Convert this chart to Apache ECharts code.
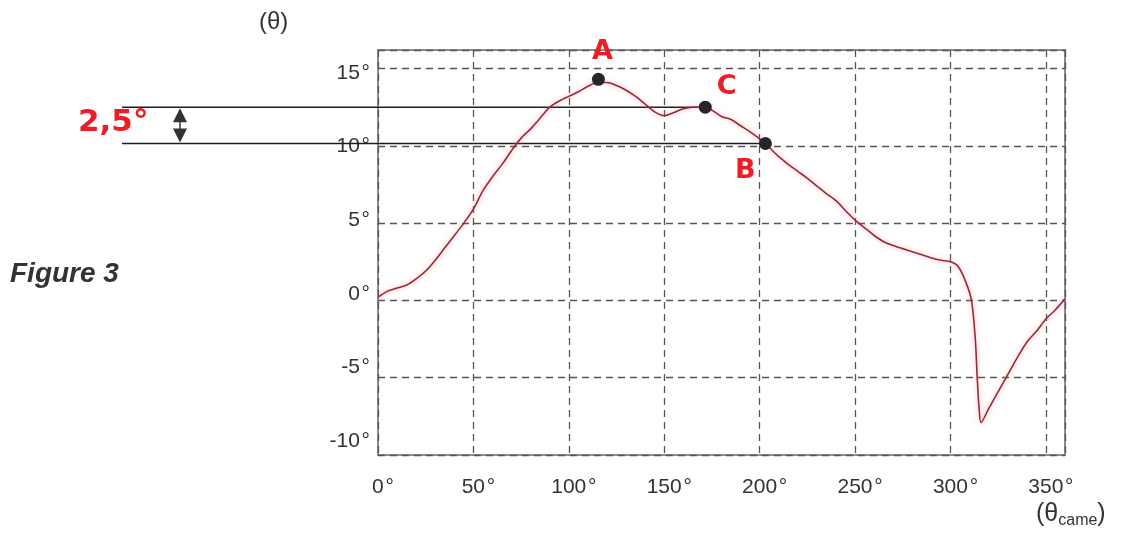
<!DOCTYPE html>
<html><head><meta charset="utf-8">
<script src="https://cdn.jsdelivr.net/npm/echarts@6/dist/echarts.min.js"></script>
<style>html,body{margin:0;padding:0;background:#fff}#c{width:1126px;height:534px}</style>
</head><body><div id="c"></div>
<script>
// cam angle (deg) and output angle (deg)
const camAngles = [0,5,10,15,20,25,30,35,40,45,50,55,60,65,70,75,80,85,90,95,100,105,110,115,120,125,130,135,140,145,150,155,160,165,170,175,180,185,190,195,200,205,210,215,220,225,230,235,240,245,250,255,260,265,270,275,280,285,290,295,300,304,308,311,313,314,315,316,320,325,330,335,340,345,350,355,360];
const thetaValues = [0.2,0.6,0.8,1.0,1.4,1.9,2.6,3.4,4.2,5.0,5.9,7.1,8.0,8.8,9.7,10.5,11.1,11.8,12.5,12.9,13.2,13.5,13.85,14.1,14.1,13.9,13.6,13.2,12.7,12.2,11.95,12.15,12.4,12.5,12.5,12.3,11.9,11.7,11.3,10.9,10.45,9.9,9.3,8.8,8.35,7.9,7.4,6.9,6.45,5.8,5.2,4.7,4.2,3.8,3.55,3.35,3.15,2.95,2.75,2.6,2.5,2.2,1.2,0,-2.5,-5,-7,-7.9,-7.0,-5.9,-4.8,-3.7,-2.7,-2.0,-1.2,-0.6,0.1];
const pointNames = ['A','C','B'];
const pointX = [115.5,171.5,203];
const pointY = [14.3,12.5,10.15];
const yTicks = [-10,-5,0,5,10,15];
const xTicks = [0,50,100,150,200,250,300,350];

const chart = echarts.init(document.getElementById('c'));
const FONT = '"Liberation Sans",Arial,sans-serif';
const curve = camAngles.map((x,i)=>[x,thetaValues[i]]);
const labelPos = {A:{position:'top',offset:[4,-2]},C:{position:'right',offset:[0,-20]},B:{position:'bottom',offset:[-20,2]}};
const pts = pointNames.map((n,i)=>({name:n,value:[pointX[i],pointY[i]],label:labelPos[n]}));

chart.setOption({
  animation:false,
  grid:{left:378,right:61,top:50,bottom:79,show:true,borderColor:'#8c8c8c',borderWidth:2,backgroundColor:'transparent'},
  xAxis:{type:'value',min:0,max:360,interval:50,
    axisLine:{show:false},axisTick:{show:false},
    axisLabel:{showMaxLabel:false,margin:22,
      formatter:v=>'{n|'+v+'}{d|\u200A°}',
      rich:{n:{fontSize:21,color:'#333',fontFamily:FONT,padding:[0,0,0,10]},d:{fontSize:21,color:'#333',fontFamily:FONT}}},
    splitLine:{show:true,lineStyle:{color:'#555',type:[7,5],width:1.3}}},
  yAxis:[
    {type:'value',min:-10,max:16.2,interval:5,
      axisLine:{show:false},axisTick:{show:false},axisLabel:{show:false},
      splitLine:{show:true,lineStyle:{color:'#555',type:[7,5],width:1.3}}},
    {type:'value',min:-10.95,max:16.55,position:'left',
      axisLine:{show:false},axisTick:{show:false},splitLine:{show:false},
      axisLabel:{customValues:yTicks,margin:8,fontSize:21,color:'#333',fontFamily:FONT,formatter:v=>v+'\u200A°'}}
  ],
  series:[
    {type:'line',data:curve,showSymbol:false,smooth:0.3,yAxisIndex:0,
      lineStyle:{color:'#982a38',width:1.6,shadowColor:'rgba(255,110,120,0.6)',shadowBlur:5},z:3},
    {type:'scatter',data:pts,symbolSize:13,yAxisIndex:0,itemStyle:{color:'#26262a',opacity:1},z:5,
      label:{show:true,formatter:p=>p.name,color:'#ee1c25',fontSize:27,fontWeight:'bold',
        fontFamily:'"DejaVu Sans",sans-serif'}}
  ]
});

const pC = chart.convertToPixel({gridIndex:0},[pointX[1],pointY[1]]);
const pB = chart.convertToPixel({gridIndex:0},[pointX[2],pointY[2]]);
const ax = 180, lx = 122;
const yTop = pC[1], yBot = pB[1];
chart.setOption({graphic:[
  {type:'line',shape:{x1:lx,y1:yTop,x2:pC[0],y2:yTop},style:{stroke:'#1e1e1e',lineWidth:1.5},z:2},
  {type:'line',shape:{x1:lx,y1:yBot,x2:pB[0],y2:yBot},style:{stroke:'#1e1e1e',lineWidth:1.5},z:2},
  {type:'line',shape:{x1:ax,y1:yTop+10,x2:ax,y2:yBot-10},style:{stroke:'#333',lineWidth:1.5}},
  {type:'polygon',shape:{points:[[ax,yTop+1],[ax-7,yTop+15],[ax+7,yTop+15]]},style:{fill:'#333'}},
  {type:'polygon',shape:{points:[[ax,yBot-1],[ax-7,yBot-15],[ax+7,yBot-15]]},style:{fill:'#333'}},
  {type:'text',x:78,y:123,style:{text:'2,5°',fill:'#ee1c25',verticalAlign:'middle',font:'bold 31px "DejaVu Sans",sans-serif'}},
  {type:'text',x:10,y:274,style:{text:'Figure 3',fill:'#333',verticalAlign:'middle',font:'italic bold 28px "Liberation Sans",Arial,sans-serif'}},
  {type:'text',x:259,y:22,style:{text:'(θ)',fill:'#333',verticalAlign:'middle',font:'24px "Liberation Sans",Arial,sans-serif'}},
  {type:'text',x:1036,y:514,style:{text:'{a|(θ}{s|came}{a|)}',verticalAlign:'middle',rich:{a:{fontSize:25,fontFamily:FONT,fill:'#333'},s:{fontSize:16,fontFamily:FONT,fill:'#333',padding:[14,0,0,0]}}}}
]});
</script></body></html>
